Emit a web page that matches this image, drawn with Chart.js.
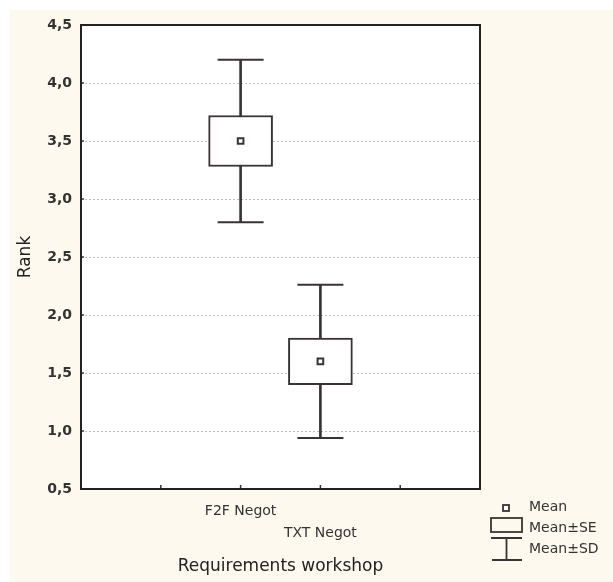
<!DOCTYPE html>
<html>
<head>
<meta charset="utf-8">
<script src="https://cdn.jsdelivr.net/npm/chart.js@4/dist/chart.umd.min.js"></script>
<style>
  html, body { margin: 0; padding: 0; background: #ffffff; }
  #wrap { width: 613px; height: 582px; }
</style>
</head>
<body>
<div id="wrap"><canvas id="c" width="613" height="582"></canvas></div>
<script>
// ---- data ----
const categories = ['F2F Negot', 'TXT Negot'];
const positions = [2, 3];           // x position of each group on the 0..5 axis
const means = [3.5, 1.6];
const seValues = [0.22, 0.2];
const sdValues = [0.70, 0.66];
const yTicks = [0.5, 1.0, 1.5, 2.0, 2.5, 3.0, 3.5, 4.0, 4.5];
const legendLabels = ['Mean', 'Mean\u00B1SE', 'Mean\u00B1SD'];
const xTitle = 'Requirements workshop';
const yTitle = 'Rank';

const INK = '#3b3333';
const FONT = "'DejaVu Sans', 'Liberation Sans', Arial, sans-serif";

const boxData = positions.map((p, i) => ({ x: p, y: [means[i] - seValues[i], means[i] + seValues[i]] }));
const stemData = positions.map((p, i) => ({ x: p, y: [means[i] - sdValues[i], means[i] + sdValues[i]] }));
const capData = [];
positions.forEach((p, i) => {
  capData.push({ x: p, y: means[i] + sdValues[i] });
  capData.push({ x: p, y: means[i] - sdValues[i] });
});
const meanData = positions.map((p, i) => ({ x: p, y: means[i] }));

const decorPlugin = {
  id: 'decor',
  beforeDraw(chart) {
    const { ctx, chartArea: a, width, height } = chart;
    ctx.save();
    ctx.fillStyle = '#ffffff';
    ctx.fillRect(0, 0, width, height);
    ctx.fillStyle = '#fdf9ee';
    ctx.fillRect(10, 10, width - 10, height - 10);
    ctx.fillStyle = '#ffffff';
    ctx.fillRect(a.left, a.top, a.right - a.left, a.bottom - a.top);
    ctx.restore();
  },
  afterDraw(chart) {
    const { ctx, chartArea: a, scales } = chart;
    ctx.save();
    // inward tick marks
    ctx.strokeStyle = INK;
    ctx.lineWidth = 1.5;
    scales.y.ticks.forEach(t => {
      const py = scales.y.getPixelForValue(t.value);
      ctx.beginPath(); ctx.moveTo(a.left, py); ctx.lineTo(a.left + 3, py); ctx.stroke();
    });
    scales.x.ticks.forEach(t => {
      if (t.value <= 0 || t.value >= 5) return;
      const px = scales.x.getPixelForValue(t.value);
      ctx.beginPath(); ctx.moveTo(px, a.bottom); ctx.lineTo(px, a.bottom - 4); ctx.stroke();
    });
    // frame
    ctx.strokeStyle = '#222222';
    ctx.lineWidth = 2;
    ctx.strokeRect(a.left, a.top, a.right - a.left, a.bottom - a.top);

    // legend
    const lx = a.right + 11;
    ctx.strokeStyle = INK;
    ctx.fillStyle = '#ffffff';
    ctx.lineWidth = 1.8;
    // mean marker
    ctx.fillRect(lx + 12, a.bottom + 16, 6, 6);
    ctx.strokeRect(lx + 12, a.bottom + 16, 6, 6);
    // SE box
    ctx.strokeRect(lx, a.bottom + 29, 31, 14);
    // SD whisker
    ctx.beginPath();
    ctx.moveTo(lx, a.bottom + 49); ctx.lineTo(lx + 31, a.bottom + 49);
    ctx.moveTo(lx + 15.5, a.bottom + 49); ctx.lineTo(lx + 15.5, a.bottom + 71);
    ctx.moveTo(lx + 1, a.bottom + 71); ctx.lineTo(lx + 31, a.bottom + 71);
    ctx.stroke();
    ctx.fillStyle = '#333333';
    ctx.font = '14px ' + FONT;
    ctx.textBaseline = 'middle';
    ctx.textAlign = 'left';
    ctx.fillText(legendLabels[0], lx + 38, a.bottom + 18);
    ctx.fillText(legendLabels[1], lx + 38, a.bottom + 39);
    ctx.fillText(legendLabels[2], lx + 38, a.bottom + 60);
    ctx.restore();
  }
};

new Chart(document.getElementById('c'), {
  type: 'bar',
  plugins: [decorPlugin],
  data: {
    datasets: [
      {
        type: 'scatter',
        label: 'Mean',
        data: meanData,
        pointStyle: 'rect',
        pointRadius: 4,
        pointHoverRadius: 4,
        pointBackgroundColor: '#ffffff',
        pointBorderColor: INK,
        pointBorderWidth: 2,
        order: 0
      },
      {
        type: 'bar',
        label: 'Mean\u00B1SE',
        data: boxData,
        backgroundColor: '#ffffff',
        borderColor: INK,
        borderWidth: 2,
        borderSkipped: false,
        barThickness: 64,
        grouped: false,
        order: 1
      },
      {
        type: 'scatter',
        label: 'SD caps',
        data: capData,
        pointStyle: 'line',
        pointRadius: 23,
        pointHoverRadius: 23,
        pointBorderColor: INK,
        pointBorderWidth: 2,
        order: 1
      },
      {
        type: 'bar',
        label: 'Mean\u00B1SD',
        data: stemData,
        backgroundColor: INK,
        borderWidth: 0,
        barThickness: 2,
        grouped: false,
        order: 2
      }
    ]
  },
  options: {
    responsive: false,
    animation: false,
    events: [],
    layout: { padding: { top: 24, right: 133, left: 0, bottom: 0 } },
    plugins: { legend: { display: false }, tooltip: { enabled: false } },
    scales: {
      x: {
        type: 'linear',
        min: 0,
        max: 5,
        offset: false,
        afterBuildTicks(scale) {
          scale.ticks = [1, 2, 3, 4].map(v => ({ value: v }));
        },
        afterFit(scale) { scale.height = 93; },
        grid: { display: false, drawTicks: false, offset: false },
        border: { display: false },
        ticks: {
          padding: 11,
          color: '#333333',
          font: { family: FONT, size: 14, lineHeight: '22px' },
          callback(v) {
            const i = positions.indexOf(v);
            if (i === 0) return categories[0];
            if (i === 1) return ['', categories[1]];
            return '';
          }
        },
        title: {
          display: true,
          text: xTitle,
          color: '#222222',
          font: { family: FONT, size: 17 },
          padding: { top: 5, bottom: 5 }
        }
      },
      y: {
        min: 0.5,
        max: 4.5,
        afterBuildTicks(scale) {
          scale.ticks = yTicks.map(v => ({ value: v }));
        },
        afterFit(scale) { scale.width = 81; },
        grid: {
          color: '#bdbdbd',
          lineWidth: 1,
          drawTicks: false
        },
        border: { display: false, dash: [2, 2] },
        ticks: {
          padding: 9,
          color: '#333333',
          font: { family: FONT, size: 14, weight: 'bold' },
          callback(v) { return v.toFixed(1).replace('.', ','); }
        },
        title: {
          display: true,
          text: yTitle,
          color: '#222222',
          font: { family: FONT, size: 17 },
          padding: { top: 15, bottom: 6 }
        }
      }
    }
  }
});
</script>
</body>
</html>
